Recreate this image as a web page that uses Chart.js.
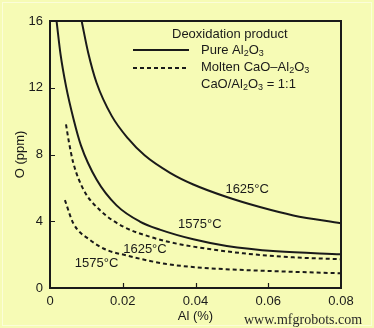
<!DOCTYPE html>
<html>
<head>
<meta charset="utf-8">
<script src="https://cdn.jsdelivr.net/npm/chart.js@4.4.1/dist/chart.umd.min.js"></script>
<style>
  html, body { margin: 0; padding: 0; background: #f6fbb5; }
  #wrap { width: 374px; height: 328px; }
</style>
</head>
<body>
<div id="wrap"><canvas id="chart" width="374" height="328"></canvas></div>
<script>
// Equilibrium O vs Al in steel, by deoxidation product and temperature
const pure1625Al = [0.0087, 0.0105, 0.0128, 0.0170, 0.0215, 0.0260, 0.0330, 0.0394, 0.0486, 0.0577, 0.0669, 0.080];
const pure1625O  = [16, 14.1, 12.3, 10.3, 8.95, 7.95, 6.9, 6.2, 5.45, 4.85, 4.35, 3.88];

const pure1575Al = [0.0018, 0.0029, 0.0044, 0.0065, 0.0085, 0.0128, 0.0183, 0.0247, 0.0302, 0.0394, 0.0486, 0.0623, 0.080];
const pure1575O  = [16, 14.0, 12.1, 10.1, 8.55, 6.5, 4.95, 3.98, 3.5, 2.92, 2.52, 2.2, 2.02];

const molten1625Al = [0.0044, 0.0052, 0.0064, 0.0092, 0.0137, 0.0202, 0.0275, 0.0325, 0.0394, 0.0531, 0.0669, 0.080];
const molten1625O  = [9.8, 8.75, 7.5, 5.9, 4.67, 3.67, 3.07, 2.77, 2.48, 2.08, 1.84, 1.72];

const molten1575Al = [0.0041, 0.0064, 0.0110, 0.0156, 0.0211, 0.0275, 0.0325, 0.0440, 0.0577, 0.080];
const molten1575O  = [5.27, 3.88, 2.88, 2.28, 1.95, 1.62, 1.42, 1.18, 1.04, 0.88];

const xTicks = [0, 0.02, 0.04, 0.06, 0.08];
const yTicks = [0, 4, 8, 12, 16];

// temperature labels: [text, Al, O]
const curveLabels = [
  ['1625°C', 0.0542, 5.93],
  ['1575°C', 0.0412, 3.78],
  ['1625°C', 0.0261, 2.34],
  ['1575°C', 0.0128, 1.50]
];

const INK = '#1a1a1a';
const FONT = '"Liberation Sans", Arial, sans-serif';

function pts(xs, ys) {
  return xs.map((x, i) => ({ x: x, y: ys[i] }));
}

function curve(xs, ys, dashed) {
  return {
    data: pts(xs, ys),
    borderColor: INK,
    borderWidth: 2,
    borderDash: dashed ? [4, 3] : [],
    pointRadius: 0,
    fill: false,
    cubicInterpolationMode: 'monotone'
  };
}

// text with chemical-formula subscripts, e.g. "Al_2O_3"
function richText(ctx, str, x, y) {
  const parts = str.split(/(_\d)/);
  parts.forEach(p => {
    if (!p) return;
    if (p[0] === '_') {
      ctx.font = '9px ' + FONT;
      ctx.fillText(p[1], x, y + 4);
      x += ctx.measureText(p[1]).width;
      ctx.font = '13px ' + FONT;
    } else {
      ctx.fillText(p, x, y);
      x += ctx.measureText(p).width;
    }
  });
}

const decor = {
  id: 'decor',
  beforeDraw(chart) {
    const ctx = chart.ctx;
    ctx.save();
    ctx.fillStyle = '#f6fbb5';
    ctx.fillRect(0, 0, chart.width, chart.height);
    ctx.strokeStyle = '#fbfdd9';
    ctx.lineWidth = 1;
    ctx.strokeRect(2.5, 2.5, chart.width - 5, chart.height - 5);
    ctx.restore();
  },
  afterDatasetsDraw(chart) {
    const ctx = chart.ctx;
    const a = chart.chartArea;
    const xs = chart.scales.x, ys = chart.scales.y;
    ctx.save();
    ctx.strokeStyle = INK;
    ctx.lineWidth = 2;
    // top and right edges of the frame
    ctx.beginPath();
    ctx.moveTo(a.left - 1, a.top);
    ctx.lineTo(a.right, a.top);
    ctx.lineTo(a.right, a.bottom + 1);
    ctx.stroke();
    // inward tick marks
    ctx.lineWidth = 1.2;
    ctx.beginPath();
    xTicks.slice(1, -1).forEach(v => {
      const px = Math.round(xs.getPixelForValue(v)) + 0.5;
      ctx.moveTo(px, a.bottom);
      ctx.lineTo(px, a.bottom - 5);
    });
    yTicks.slice(1, -1).forEach(v => {
      const py = Math.round(ys.getPixelForValue(v)) + 0.5;
      ctx.moveTo(a.left, py);
      ctx.lineTo(a.left + 5, py);
    });
    ctx.stroke();

    // temperature labels on the curves
    ctx.fillStyle = INK;
    ctx.font = '13px ' + FONT;
    ctx.textAlign = 'center';
    ctx.textBaseline = 'middle';
    curveLabels.forEach(([t, al, o]) => {
      ctx.fillText(t, xs.getPixelForValue(al), ys.getPixelForValue(o));
    });

    // legend
    ctx.textAlign = 'left';
    ctx.fillText('Deoxidation product', 172, 34);
    const ds = chart.data.datasets;
    [[0, 50], [2, 68]].forEach(([i, y]) => {
      ctx.save();
      ctx.lineWidth = 2;
      ctx.setLineDash(ds[i].borderDash);
      ctx.beginPath();
      ctx.moveTo(133, y);
      ctx.lineTo(189, y);
      ctx.stroke();
      ctx.restore();
    });
    ctx.font = '13px ' + FONT;
    richText(ctx, 'Pure Al_2O_3', 201, 50);
    richText(ctx, 'Molten CaO\u2013Al_2O_3', 201, 67);
    richText(ctx, 'CaO/Al_2O_3 = 1:1', 201, 84);

    // site mark
    ctx.font = '14px "Liberation Serif", "DejaVu Serif", serif';
    ctx.fillStyle = '#2a2a2a';
    ctx.fillText('www.mfgrobots.com', 244, 320);
    ctx.restore();
  }
};

new Chart(document.getElementById('chart'), {
  type: 'line',
  data: {
    datasets: [
      curve(pure1625Al, pure1625O, false),
      curve(pure1575Al, pure1575O, false),
      curve(molten1625Al, molten1625O, true),
      curve(molten1575Al, molten1575O, true)
    ]
  },
  options: {
    responsive: false,
    animation: false,
    layout: { padding: { top: 21, right: 33, left: 0, bottom: 0 } },
    plugins: { legend: { display: false }, tooltip: { enabled: false } },
    scales: {
      x: {
        type: 'linear',
        min: 0,
        max: 0.08,
        afterFit: s => { s.height = 40; },
        afterBuildTicks: s => { s.ticks = xTicks.map(v => ({ value: v })); },
        grid: { display: false, drawTicks: false },
        border: { display: true, color: INK, width: 2 },
        ticks: {
          padding: 6,
          color: INK,
          font: { family: FONT, size: 13 },
          callback: v => v === 0 ? '0' : v.toFixed(2)
        },
        title: {
          display: true,
          text: 'Al (%)',
          color: INK,
          font: { family: FONT, size: 13 },
          padding: { top: 0, bottom: 4 }
        }
      },
      y: {
        min: 0,
        max: 16,
        afterFit: s => { s.width = 50; },
        afterBuildTicks: s => { s.ticks = yTicks.map(v => ({ value: v })); },
        grid: { display: false, drawTicks: false },
        border: { display: true, color: INK, width: 2 },
        ticks: {
          padding: 7,
          color: INK,
          font: { family: FONT, size: 13 }
        },
        title: {
          display: true,
          text: 'O (ppm)',
          color: INK,
          font: { family: FONT, size: 13 },
          padding: { top: 13, bottom: 0 }
        }
      }
    }
  },
  plugins: [decor]
});
</script>
</body>
</html>
